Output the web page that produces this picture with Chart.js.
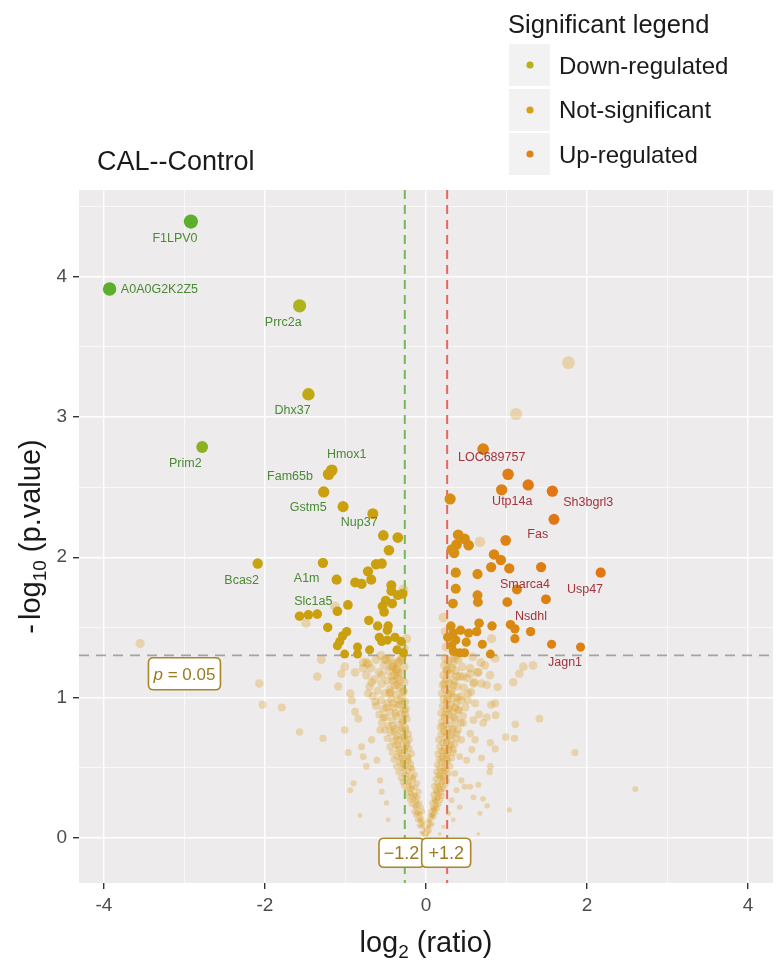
<!DOCTYPE html>
<html>
<head>
<meta charset="utf-8">
<script src="https://cdn.jsdelivr.net/npm/chart.js@4.4.1/dist/chart.umd.min.js"></script>
<style>
html,body{margin:0;padding:0;background:#ffffff;}
canvas{display:block;}
</style>
</head>
<body>
<canvas id="c" width="780" height="965"></canvas>
<script>
// ---------------- DATA ----------------
const chartTitle = 'CAL--Control';
const legendTitle = 'Significant legend';
const categories = ['Down-regulated', 'Not-significant', 'Up-regulated'];

const xTicks = [-4, -3, -2, -1, 0, 1, 2, 3, 4];
const xTickLabels = ['-4', '', '-2', '', '0', '', '2', '', '4'];
const yTicks = [0, 0.5, 1, 1.5, 2, 2.5, 3, 3.5, 4, 4.5];
const yTickLabels = ['0', '', '1', '', '2', '', '3', '', '4', ''];

// thresholds: log2(1/1.2), log2(1.2), -log10(0.05)
const foldCutoffs = [-0.263, 0.263];
const pCutoff = 1.301;
const foldLabels = ['\u22121.2', '+1.2'];
const foldLabelLog2 = [-0.304, 0.251];
const foldLabelP = [-0.105, -0.105];
const pLabelLog2 = -3.0;
const pLabelP = 1.17;

// [log2 ratio, -log10 p]
const downRegulated = [
  [-2.92,4.39],[-3.93,3.91],[-1.57,3.79],[-1.46,3.16],[-2.78,2.785],[-1.17,2.62],[-1.21,2.59],
  [-1.27,2.465],[-1.03,2.36],[-0.66,2.31],[-0.53,2.155],[-0.35,2.14],[-0.46,2.05],[-2.09,1.955],
  [-1.28,1.96],[-0.62,1.95],[-0.55,1.955],[-0.72,1.90],[-0.68,1.84],[-1.11,1.84],[-0.88,1.82],
  [-0.80,1.81],[-0.43,1.80],[-0.43,1.76],[-0.35,1.73],[-0.29,1.74],[-0.50,1.69],[-0.42,1.67],
  [-0.54,1.65],[-0.52,1.61],[-0.97,1.66],[-1.10,1.615],[-1.57,1.58],[-1.46,1.59],[-1.35,1.595],
  [-0.71,1.55],[-0.60,1.51],[-0.47,1.51],[-0.48,1.48],[-1.22,1.50],[-0.985,1.47],[-1.035,1.44],
  [-0.58,1.43],[-0.55,1.40],[-0.48,1.41],[-0.385,1.43],[-0.31,1.40],[-1.07,1.40],[-1.10,1.37],
  [-0.85,1.36],[-0.70,1.34],[-0.36,1.34],[-1.01,1.31],[-0.85,1.31],[-0.28,1.32]
];

const upRegulated = [
  [0.71,2.77],[1.02,2.59],[1.27,2.515],[0.94,2.48],[1.57,2.47],[0.30,2.415],[1.59,2.27],
  [0.40,2.16],[0.48,2.13],[0.38,2.09],[0.53,2.085],[0.32,2.055],[0.35,2.03],[0.99,2.12],
  [0.845,2.02],[0.93,1.98],[0.81,1.93],[1.035,1.92],[1.43,1.93],[2.17,1.89],[0.37,1.89],
  [0.64,1.88],[0.37,1.775],[1.13,1.77],[0.64,1.73],[0.645,1.68],[1.01,1.68],[1.49,1.70],
  [0.335,1.67],[0.31,1.51],[0.66,1.53],[0.82,1.51],[1.05,1.52],[1.105,1.49],[1.30,1.47],
  [0.34,1.46],[0.43,1.48],[0.53,1.46],[0.63,1.47],[0.27,1.43],[0.37,1.41],[0.50,1.395],
  [0.70,1.38],[1.105,1.42],[1.56,1.38],[1.92,1.36],[0.32,1.37],[0.34,1.33],[0.48,1.32],
  [0.80,1.31],[0.42,1.32]
];

const notSignificantHigh = [
  [1.77,3.385],[1.12,3.02],[0.67,2.11],[0.815,1.42],[0.215,1.57],[0.24,1.47],[0.25,1.36],
  [-0.28,1.77],[-1.13,1.65],[-1.49,1.53],[-0.27,1.35],[-0.24,1.42]
];

const notSignificantLeftScatter = [
  [-3.55,1.385],[-2.07,1.10],[-2.03,0.95],[-1.79,0.93],[-1.57,0.755],[-1.35,1.15],[-1.30,1.27],
  [-1.28,0.71],[-1.01,0.77],[-0.965,0.61],[-0.90,0.39],[-0.94,0.34],[-0.82,0.16],[-1.05,1.17],
  [-1.09,1.08],[-1.01,1.22],[-0.88,1.18],[-0.78,1.21],[-0.94,1.03],[-0.92,0.98],[-0.88,0.90],
  [-0.84,0.85],[-0.72,1.03],[-0.675,1.11],[-0.63,0.97],[-0.55,1.16],[-0.51,1.27],[-0.72,1.24],
  [-0.80,0.65],[-0.78,0.58],[-0.675,0.70],[-0.74,0.51],[-0.61,0.555],[-0.57,0.41],[-0.55,0.33],
  [-0.49,0.25],[-0.47,0.13],[-0.57,0.77],[-0.53,0.86],[-0.49,0.93],[-0.45,1.03],[-0.41,1.12],
  [-0.36,1.20],[-0.74,1.25],[-0.49,1.27],[-0.41,1.22]
];

const notSignificantLeftArm = [
  [-0.02,0.02],[-0.04,0.03],[-0.01,0.05],[-0.06,0.04],[-0.03,0.07],[-0.07,0.08],[-0.05,0.10],[-0.09,0.09],[-0.02,0.11],[-0.08,0.12],
  [-0.11,0.13],[-0.05,0.14],[-0.09,0.15],[-0.13,0.16],[-0.07,0.17],[-0.12,0.18],[-0.04,0.19],[-0.15,0.19],[-0.10,0.21],[-0.06,0.22],
  [-0.14,0.23],[-0.18,0.24],[-0.08,0.25],[-0.12,0.26],[-0.20,0.27],[-0.16,0.28],[-0.10,0.29],[-0.22,0.30],[-0.14,0.31],[-0.19,0.32],
  [-0.09,0.33],[-0.24,0.34],[-0.17,0.35],[-0.13,0.36],[-0.27,0.37],[-0.21,0.38],[-0.11,0.39],[-0.29,0.40],[-0.16,0.41],[-0.24,0.42],
  [-0.31,0.43],[-0.19,0.44],[-0.14,0.45],[-0.27,0.46],[-0.34,0.47],[-0.22,0.48],[-0.17,0.49],[-0.30,0.50],[-0.37,0.51],[-0.25,0.52],
  [-0.19,0.53],[-0.33,0.54],[-0.28,0.55],[-0.40,0.56],[-0.22,0.57],[-0.36,0.58],[-0.30,0.59],[-0.18,0.60],[-0.42,0.61],[-0.26,0.62],
  [-0.34,0.63],[-0.21,0.64],[-0.45,0.65],[-0.38,0.66],[-0.29,0.67],[-0.24,0.68],[-0.41,0.69],[-0.33,0.70],[-0.48,0.71],[-0.27,0.72],
  [-0.36,0.73],[-0.22,0.74],[-0.44,0.75],[-0.31,0.76],[-0.51,0.77],[-0.39,0.78],[-0.26,0.79],[-0.47,0.80],[-0.34,0.81],[-0.55,0.82],
  [-0.29,0.83],[-0.42,0.84],[-0.24,0.85],[-0.50,0.86],[-0.37,0.87],[-0.58,0.88],[-0.31,0.89],[-0.45,0.90],[-0.27,0.91],[-0.53,0.92],
  [-0.40,0.93],[-0.62,0.94],[-0.34,0.95],[-0.48,0.96],[-0.26,0.97],[-0.56,0.98],[-0.43,0.99],[-0.30,1.00],[-0.66,1.01],[-0.37,1.02],
  [-0.51,1.03],[-0.28,1.04],[-0.60,1.05],[-0.45,1.06],[-0.33,1.07],[-0.70,1.08],[-0.39,1.09],[-0.55,1.10],[-0.27,1.11],[-0.48,1.12],
  [-0.64,1.13],[-0.35,1.14],[-0.42,1.15],[-0.74,1.16],[-0.30,1.17],[-0.58,1.18],[-0.46,1.19],[-0.37,1.20],[-0.68,1.21],[-0.27,1.22],
  [-0.52,1.23],[-0.41,1.24],[-0.78,1.25],[-0.33,1.26],[-0.62,1.27],[-0.45,1.28],[-0.29,1.29],[-0.56,1.30],
  [-0.23,0.58],[-0.27,0.63],[-0.25,0.77],[-0.29,0.84],[-0.31,0.95],[-0.28,1.05],[-0.32,1.12],[-0.26,0.88],[-0.21,0.70],[-0.19,0.50],
  [-0.16,0.43],[-0.13,0.30],[-0.08,0.18],[-0.24,0.66],[-0.30,0.78],[-0.33,0.98],[-0.35,1.18],[-0.22,0.55],[-0.28,0.72],[-0.25,0.92],
  [-0.31,1.27],[-0.18,0.37],[-0.11,0.24],[-0.06,0.12],[-0.03,0.04],
  [-0.04,0.09],[-0.07,0.13],[-0.10,0.18],[-0.13,0.22],[-0.15,0.27],[-0.18,0.31],[-0.20,0.35],[-0.22,0.40],[-0.25,0.45],[-0.27,0.50],
  [-0.29,0.53],[-0.31,0.57],[-0.33,0.61],[-0.35,0.66],[-0.37,0.71],[-0.40,0.76],[-0.42,0.80],[-0.38,0.89],[-0.41,0.96],[-0.44,1.04],
  [-0.36,1.09],[-0.39,1.16],[-0.43,1.22],[-0.35,1.25]
];

const notSignificantRightArm = [
  [0.01,0.02],[0.03,0.04],[0.00,0.06],[0.05,0.05],[0.02,0.08],[0.06,0.09],[0.04,0.11],[0.08,0.10],[0.03,0.13],[0.07,0.14],
  [0.10,0.15],[0.05,0.16],[0.09,0.17],[0.12,0.18],[0.06,0.19],[0.11,0.20],[0.14,0.21],[0.08,0.22],[0.13,0.23],[0.16,0.24],
  [0.07,0.25],[0.12,0.26],[0.18,0.27],[0.10,0.28],[0.15,0.29],[0.20,0.30],[0.09,0.31],[0.14,0.32],[0.19,0.33],[0.12,0.34],
  [0.22,0.35],[0.17,0.36],[0.10,0.37],[0.24,0.38],[0.14,0.39],[0.20,0.40],[0.26,0.41],[0.12,0.42],[0.18,0.43],[0.23,0.44],
  [0.15,0.45],[0.28,0.46],[0.13,0.47],[0.21,0.48],[0.25,0.49],[0.17,0.50],[0.30,0.51],[0.14,0.52],[0.23,0.53],[0.19,0.54],
  [0.27,0.55],[0.16,0.56],[0.32,0.57],[0.21,0.58],[0.25,0.59],[0.15,0.60],[0.34,0.61],[0.19,0.62],[0.28,0.63],[0.23,0.64],
  [0.17,0.65],[0.31,0.66],[0.36,0.67],[0.21,0.68],[0.26,0.69],[0.16,0.70],[0.38,0.71],[0.24,0.72],[0.30,0.73],[0.19,0.74],
  [0.33,0.75],[0.22,0.76],[0.40,0.77],[0.27,0.78],[0.18,0.79],[0.35,0.80],[0.25,0.81],[0.43,0.82],[0.20,0.83],[0.30,0.84],
  [0.37,0.85],[0.23,0.86],[0.46,0.87],[0.28,0.88],[0.19,0.89],[0.33,0.90],[0.41,0.91],[0.25,0.92],[0.49,0.93],[0.21,0.94],
  [0.31,0.95],[0.38,0.96],[0.26,0.97],[0.52,0.98],[0.22,0.99],[0.35,1.00],[0.44,1.01],[0.28,1.02],[0.20,1.03],[0.56,1.04],
  [0.32,1.05],[0.24,1.06],[0.47,1.07],[0.39,1.08],[0.21,1.09],[0.29,1.10],[0.60,1.11],[0.35,1.12],[0.25,1.13],[0.51,1.14],
  [0.42,1.15],[0.22,1.16],[0.30,1.17],[0.64,1.18],[0.37,1.19],[0.26,1.20],[0.55,1.21],[0.45,1.22],[0.23,1.23],[0.33,1.24],
  [0.68,1.25],[0.28,1.26],[0.40,1.27],[0.24,1.28],[0.58,1.29],[0.35,1.30],
  [0.22,0.62],[0.26,0.75],[0.24,0.88],[0.27,0.99],[0.23,1.10],[0.20,0.57],[0.18,0.48],[0.15,0.37],[0.11,0.27],[0.07,0.16],
  [0.04,0.07],[0.25,0.68],[0.29,0.92],[0.21,0.80],[0.17,0.44],[0.26,1.19],[0.31,1.03],[0.13,0.33],[0.09,0.20],[0.02,0.03],
  [0.03,0.09],[0.05,0.12],[0.08,0.16],[0.10,0.21],[0.12,0.24],[0.14,0.28],[0.16,0.31],[0.18,0.35],[0.20,0.39],[0.21,0.43],
  [0.23,0.47],[0.24,0.51],[0.26,0.56],[0.27,0.60],[0.29,0.65],[0.31,0.70],[0.33,0.78],[0.35,0.86],[0.36,0.93],[0.39,1.00],
  [0.34,1.09],[0.38,1.15],[0.32,1.21],[0.36,1.28]
];

const notSignificantRightScatter = [
  [1.85,0.61],[1.41,0.85],[1.11,0.81],[0.99,0.72],[1.10,0.71],[1.33,1.23],[1.21,1.22],[1.16,1.17],
  [1.085,1.11],[0.89,1.075],[0.795,1.16],[0.86,0.96],[0.81,0.95],[0.865,0.875],[0.80,0.68],[0.86,0.635],
  [0.80,0.51],[0.79,0.47],[0.65,0.38],[0.71,0.28],[0.76,0.23],[1.035,0.20],[0.67,0.176],[0.65,0.03],
  [0.59,0.29],[0.55,0.365],[0.48,0.365],[0.69,0.57],[0.71,0.82],[0.755,0.86],[0.66,0.88],[0.59,0.84],
  [0.55,0.745],[0.61,0.70],[0.57,0.63],[0.505,0.555],[0.755,1.09],[0.69,1.10],[0.59,1.10],[0.65,1.18],
  [0.55,1.17],[0.46,1.15],[0.73,1.23],[0.86,1.28],[0.525,1.03],[0.44,0.98],[0.61,0.96],[0.40,0.91],
  [0.46,0.82],[0.38,0.745],[0.44,0.70],[0.34,0.63],[0.42,0.58],[0.36,0.46],[0.44,0.41],[0.38,0.34],
  [0.32,0.27],[0.42,0.22],[0.28,0.176],[0.34,0.13],[0.215,0.08],[0.17,0.03],[2.60,0.35]
];

const geneNames = ['F1LPV0','A0A0G2K2Z5','Prrc2a','Dhx37','Prim2','Hmox1','Fam65b','Gstm5','Nup37','Bcas2',
  'A1m','Slc1a5','LOC689757','Utp14a','Sh3bgrl3','Fas','Smarca4','Usp47','Nsdhl','Jagn1'];
const geneLabelLog2 = [-3.118,-3.311,-1.773,-1.656,-2.990,-0.985,-1.689,-1.462,-0.829,-2.289,
  -1.482,-1.400,0.816,1.072,2.016,1.388,1.230,1.975,1.304,1.727];
const geneLabelP = [4.268,3.907,3.668,3.041,2.667,2.733,2.577,2.351,2.247,1.836,
  1.846,1.685,2.710,2.396,2.386,2.164,1.808,1.770,1.580,1.253];

// ---------------- STYLE ----------------
const FONT = '"Liberation Sans", Arial, Helvetica, sans-serif';
const PANEL_BG = '#EDEBEC';
const LEGEND_COLORS = { 'Down-regulated': '#B6B21C', 'Not-significant': '#D4A214', 'Up-regulated': '#E08218' };
const LABEL_BORDER = '#A8862C';
const LABEL_TEXT = '#9A7B22';

function radiusFor(p) { return 1.4 + 2.7 * Math.sqrt(Math.max(p, 0)); }
function mix(a, b, t) { return a.map((v, i) => Math.round(v + (b[i] - v) * t)); }
function clamp01(t) { return Math.min(Math.max(t, 0), 1); }
function downColor(x, y) {
  const t = clamp01((Math.abs(x) * y - 3.5) / 7);
  const gold = [203,160,15], olive = [180,178,28], green = [93,174,44];
  const c = t < 0.3 ? mix(gold, olive, t / 0.3) : mix(olive, green, (t - 0.3) / 0.7);
  return 'rgb(' + c.join(',') + ')';
}
function upColor(x, y) {
  const t = clamp01((x * y) / 3.5);
  const c = mix([212,150,18], [226,118,20], t);
  return 'rgb(' + c.join(',') + ')';
}
const toXY = arr => arr.map(([x, y]) => ({ x, y }));

const notSignificant = [].concat(notSignificantLeftArm, notSignificantRightArm,
  notSignificantLeftScatter, notSignificantRightScatter, notSignificantHigh);

// ---------------- PLUGINS ----------------
const backgroundPlugin = {
  id: 'panelBackground',
  beforeDraw(chart) {
    const { ctx, chartArea: a } = chart;
    ctx.save();
    ctx.fillStyle = '#ffffff';
    ctx.fillRect(0, 0, chart.width, chart.height);
    ctx.fillStyle = PANEL_BG;
    ctx.fillRect(a.left, a.top, a.right - a.left, a.bottom - a.top);
    ctx.restore();
  }
};

const thresholdPlugin = {
  id: 'thresholds',
  beforeDatasetsDraw(chart) {
    const { ctx, chartArea: a, scales: { x, y } } = chart;
    ctx.save();
    ctx.beginPath(); ctx.rect(a.left, a.top, a.right - a.left, a.bottom - a.top); ctx.clip();
    ctx.lineWidth = 2;
    const colors = ['#74B957', '#E8665F'];
    foldCutoffs.forEach((v, i) => {
      const px = x.getPixelForValue(v);
      ctx.strokeStyle = colors[i];
      ctx.setLineDash([9, 6]);
      ctx.beginPath(); ctx.moveTo(px, a.top); ctx.lineTo(px, a.bottom); ctx.stroke();
    });
    const py = y.getPixelForValue(pCutoff);
    ctx.strokeStyle = '#A6A2A2';
    ctx.lineWidth = 1.8;
    ctx.setLineDash([10, 7]);
    ctx.beginPath(); ctx.moveTo(a.left, py); ctx.lineTo(a.right, py); ctx.stroke();
    ctx.restore();
  }
};

function roundRect(ctx, x, y, w, h, r) {
  ctx.beginPath();
  ctx.moveTo(x + r, y);
  ctx.lineTo(x + w - r, y); ctx.quadraticCurveTo(x + w, y, x + w, y + r);
  ctx.lineTo(x + w, y + h - r); ctx.quadraticCurveTo(x + w, y + h, x + w - r, y + h);
  ctx.lineTo(x + r, y + h); ctx.quadraticCurveTo(x, y + h, x, y + h - r);
  ctx.lineTo(x, y + r); ctx.quadraticCurveTo(x, y, x + r, y);
  ctx.closePath();
}

function drawBoxLabel(ctx, cx, cy, parts, w, h) {
  ctx.save();
  roundRect(ctx, cx - w / 2, cy - h / 2, w, h, 5);
  ctx.fillStyle = '#ffffff';
  ctx.fill();
  ctx.lineWidth = 1.6;
  ctx.strokeStyle = LABEL_BORDER;
  ctx.stroke();
  let total = 0;
  parts.forEach(p => { ctx.font = p.font; p.w = ctx.measureText(p.text).width; total += p.w; });
  let xx = cx - total / 2;
  ctx.fillStyle = LABEL_TEXT;
  ctx.textBaseline = 'alphabetic';
  ctx.textAlign = 'left';
  parts.forEach(p => { ctx.font = p.font; ctx.fillText(p.text, xx, cy + 6); xx += p.w; });
  ctx.restore();
}

const annotationPlugin = {
  id: 'annotations',
  afterDatasetsDraw(chart) {
    const { ctx, scales: { x, y } } = chart;
    ctx.save();
    ctx.font = '12.5px ' + FONT;
    ctx.textAlign = 'center';
    ctx.textBaseline = 'middle';
    geneNames.forEach((g, i) => {
      ctx.fillStyle = geneLabelLog2[i] < 0 ? '#4A8A34' : '#A3343B';
      ctx.fillText(g, x.getPixelForValue(geneLabelLog2[i]), y.getPixelForValue(geneLabelP[i]));
    });
    drawBoxLabel(ctx, x.getPixelForValue(pLabelLog2), y.getPixelForValue(pLabelP),
      [{ text: 'p', font: 'italic 17px ' + FONT }, { text: ' = 0.05', font: '17px ' + FONT }], 72, 32);
    foldLabels.forEach((t, i) => {
      drawBoxLabel(ctx, x.getPixelForValue(foldLabelLog2[i]), y.getPixelForValue(foldLabelP[i]),
        [{ text: t, font: '18px ' + FONT }], i === 0 ? 45 : 49, 29);
    });
    ctx.restore();
  }
};

const textPlugin = {
  id: 'chartTexts',
  afterDraw(chart) {
    const { ctx, chartArea: a } = chart;
    ctx.save();
    ctx.fillStyle = '#1a1a1a';
    ctx.textAlign = 'left';
    ctx.textBaseline = 'alphabetic';
    ctx.font = '27px ' + FONT;
    ctx.fillText(chartTitle, 97, 170);
    ctx.font = '25.5px ' + FONT;
    ctx.fillText(legendTitle, 508, 33);
    const rowTop = [44, 89, 133];
    const baselines = [74, 118, 163];
    categories.forEach((cat, i) => {
      ctx.fillStyle = '#F2F2F2';
      ctx.fillRect(509, rowTop[i], 41, 42);
      ctx.fillStyle = LEGEND_COLORS[cat];
      ctx.beginPath(); ctx.arc(530, rowTop[i] + 21, 3.6, 0, Math.PI * 2); ctx.fill();
      ctx.fillStyle = '#1a1a1a';
      ctx.font = '24px ' + FONT;
      ctx.fillText(cat, 559, baselines[i]);
    });
    const cx = (a.left + a.right) / 2;
    const big = '29px ' + FONT, small = '19px ' + FONT;
    const xParts = [{ t: 'log', f: big, dy: 0 }, { t: '2', f: small, dy: 6 }, { t: ' (ratio)', f: big, dy: 0 }];
    let tot = 0;
    xParts.forEach(p => { ctx.font = p.f; p.w = ctx.measureText(p.t).width; tot += p.w; });
    let xx = cx - tot / 2;
    xParts.forEach(p => { ctx.font = p.f; ctx.fillText(p.t, xx, 952 + p.dy); xx += p.w; });
    const cy = (a.top + a.bottom) / 2;
    ctx.translate(30, cy);
    ctx.rotate(-Math.PI / 2);
    const yParts = [{ t: '-', f: big, dy: 0, gap: 4 }, { t: 'log', f: big, dy: 0, gap: 0 },
      { t: '10', f: small, dy: 6, gap: 0 }, { t: ' (p.value)', f: big, dy: 0, gap: 0 }];
    tot = 0;
    yParts.forEach(p => { ctx.font = p.f; p.w = ctx.measureText(p.t).width + p.gap; tot += p.w; });
    xx = -tot / 2;
    yParts.forEach(p => { ctx.font = p.f; ctx.fillText(p.t, xx, 10 + p.dy); xx += p.w; });
    ctx.restore();
  }
};

// ---------------- CHART ----------------
const ctx = document.getElementById('c').getContext('2d');
new Chart(ctx, {
  type: 'scatter',
  data: {
    datasets: [
      {
        label: categories[0],
        data: toXY(downRegulated),
        backgroundColor: c => c.raw ? downColor(c.raw.x, c.raw.y) : LEGEND_COLORS[categories[0]],
        pointRadius: c => c.raw ? radiusFor(c.raw.y) : 4,
        borderWidth: 0,
        order: 1
      },
      {
        label: categories[2],
        data: toXY(upRegulated),
        backgroundColor: c => c.raw ? upColor(c.raw.x, c.raw.y) : LEGEND_COLORS[categories[2]],
        pointRadius: c => c.raw ? radiusFor(c.raw.y) : 4,
        borderWidth: 0,
        order: 2
      },
      {
        label: categories[1],
        data: toXY(notSignificant),
        backgroundColor: 'rgba(220,160,38,0.33)',
        pointRadius: c => c.raw ? radiusFor(c.raw.y) : 3,
        borderWidth: 0,
        order: 3
      }
    ]
  },
  options: {
    responsive: false,
    devicePixelRatio: 1,
    animation: false,
    events: [],
    layout: { padding: { top: 190, right: 7, left: 0, bottom: 0 } },
    plugins: {
      legend: { display: false },
      tooltip: { enabled: false },
      title: { display: false }
    },
    scales: {
      x: {
        type: 'linear',
        min: -4.31,
        max: 4.31,
        afterBuildTicks: s => { s.ticks = xTicks.map(v => ({ value: v })); },
        afterFit: s => { s.height = 82; },
        ticks: {
          autoSkip: false,
          maxRotation: 0,
          padding: 5,
          color: '#4D4D4D',
          font: { family: FONT, size: 19 },
          callback: v => { const i = xTicks.indexOf(v); return i >= 0 ? xTickLabels[i] : ''; }
        },
        grid: {
          color: '#FFFFFF',
          lineWidth: c => (c.tick && xTickLabels[xTicks.indexOf(c.tick.value)] !== '') ? 1.4 : 0.7,
          drawTicks: true,
          tickLength: 6,
          tickWidth: 1.4,
          tickColor: c => (c.tick && xTickLabels[xTicks.indexOf(c.tick.value)] !== '') ? '#333333' : 'rgba(0,0,0,0)'
        },
        border: { display: false }
      },
      y: {
        type: 'linear',
        min: -0.32,
        max: 4.615,
        afterBuildTicks: s => { s.ticks = yTicks.map(v => ({ value: v })); },
        afterFit: s => { s.width = 79; },
        ticks: {
          autoSkip: false,
          padding: 6,
          color: '#4D4D4D',
          font: { family: FONT, size: 19 },
          callback: v => { const i = yTicks.indexOf(v); return i >= 0 ? yTickLabels[i] : ''; }
        },
        grid: {
          color: '#FFFFFF',
          lineWidth: c => (c.tick && yTickLabels[yTicks.indexOf(c.tick.value)] !== '') ? 1.4 : 0.7,
          drawTicks: true,
          tickLength: 6,
          tickWidth: 1.4,
          tickColor: c => (c.tick && yTickLabels[yTicks.indexOf(c.tick.value)] !== '') ? '#333333' : 'rgba(0,0,0,0)'
        },
        border: { display: false }
      }
    }
  },
  plugins: [backgroundPlugin, thresholdPlugin, annotationPlugin, textPlugin]
});
</script>
</body>
</html>
